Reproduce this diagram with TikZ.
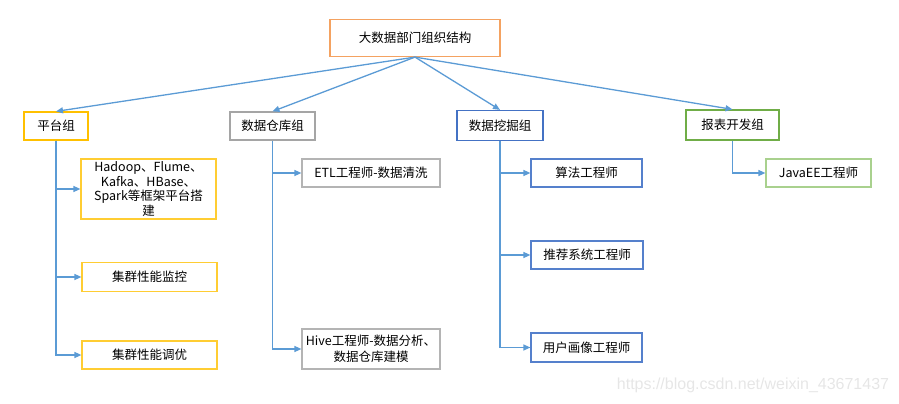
\documentclass[tikz,border=0pt]{standalone}
\usepackage{fontspec}
\setmainfont{Noto Sans CJK SC}
\newfontfamily\wmfont{Liberation Sans}
\usetikzlibrary{arrows.meta}
\definecolor{orangeb}{HTML}{F4A261}
\definecolor{goldb}{HTML}{FFC000}
\definecolor{goldc}{HTML}{FFCD33}
\definecolor{grayb}{HTML}{A5A5A5}
\definecolor{grayc}{HTML}{B4B4B4}
\definecolor{blueb}{HTML}{4472C4}
\definecolor{bluec}{HTML}{5580CC}
\definecolor{greenb}{HTML}{70AD47}
\definecolor{greenc}{HTML}{A9D18E}
\definecolor{linec}{HTML}{5B9BD5}
\definecolor{wmc}{HTML}{E6E6E6}
\tikzset{
  box/.style={draw, line width=1.2pt, inner sep=0pt, align=center, fill=white,
    font=\fontsize{12.5}{14.6}\selectfont},
  conn/.style={draw=linec, line width=1.3pt, -{Triangle[length=7pt,width=6pt]}},
}
\begin{document}
\begin{tikzpicture}[x=1pt,y=-1pt]
\useasboundingbox (0,0) rectangle (899,404);
\node[box, draw=orangeb, minimum width=170pt, minimum height=37pt] (top) at (415,38) {大数据部门组织结构};
\node[box, draw=goldb, minimum width=64pt, minimum height=28pt] (g1) at (56,126) {平台组};
\node[box, draw=grayb, minimum width=85pt, minimum height=28pt] (g2) at (272.5,126) {数据仓库组};
\node[box, draw=blueb, minimum width=86pt, minimum height=30pt] (g3) at (500,125.5) {数据挖掘组};
\node[box, draw=greenb, minimum width=93pt, minimum height=30pt] (g4) at (732.5,125) {报表开发组};

\node[box, draw=goldc, minimum width=135pt, minimum height=60pt] (c11) at (148.5,189) {Hadoop、Flume、\\Kafka、HBase、\\Spark等框架平台搭\\建};
\node[box, draw=goldc, minimum width=135pt, minimum height=29pt] (c12) at (149.5,277) {集群性能监控};
\node[box, draw=goldc, minimum width=135pt, minimum height=28pt] (c13) at (149.5,355) {集群性能调优};

\node[box, draw=grayc, minimum width=138pt, minimum height=28pt] (c21) at (371,173) {ETL工程师-数据清洗};
\node[box, draw=grayc, minimum width=138pt, minimum height=40pt, font=\fontsize{12.5}{16}\selectfont] (c22) at (371,349) {Hive工程师-数据分析、\\数据仓库建模};

\node[box, draw=bluec, minimum width=111pt, minimum height=28pt] (c31) at (586.5,173) {算法工程师};
\node[box, draw=bluec, minimum width=112pt, minimum height=28pt] (c32) at (587,255) {推荐系统工程师};
\node[box, draw=bluec, minimum width=111pt, minimum height=29pt] (c33) at (586.5,347.5) {用户画像工程师};

\node[box, draw=greenc, minimum width=105pt, minimum height=28pt] (c41) at (818.5,173) {JavaEE工程师};

\foreach \g in {g1,g2,g3,g4} \draw[conn] (top.south) -- (\g.north);
\foreach \c in {c11,c12,c13} \draw[conn] (g1.south) |- (\c.west);
\foreach \c in {c21,c22} \draw[conn] (g2.south) |- (\c.west);
\foreach \c in {c31,c32,c33} \draw[conn] (g3.south) |- (\c.west);
\draw[conn] (g4.south) |- (c41.west);

\node[text=wmc, font=\wmfont\fontsize{16}{18}\selectfont, inner sep=0pt] (wm) at (753,385) {https://blog.csdn.net/weixin\_43671437};
\end{tikzpicture}
\end{document}
